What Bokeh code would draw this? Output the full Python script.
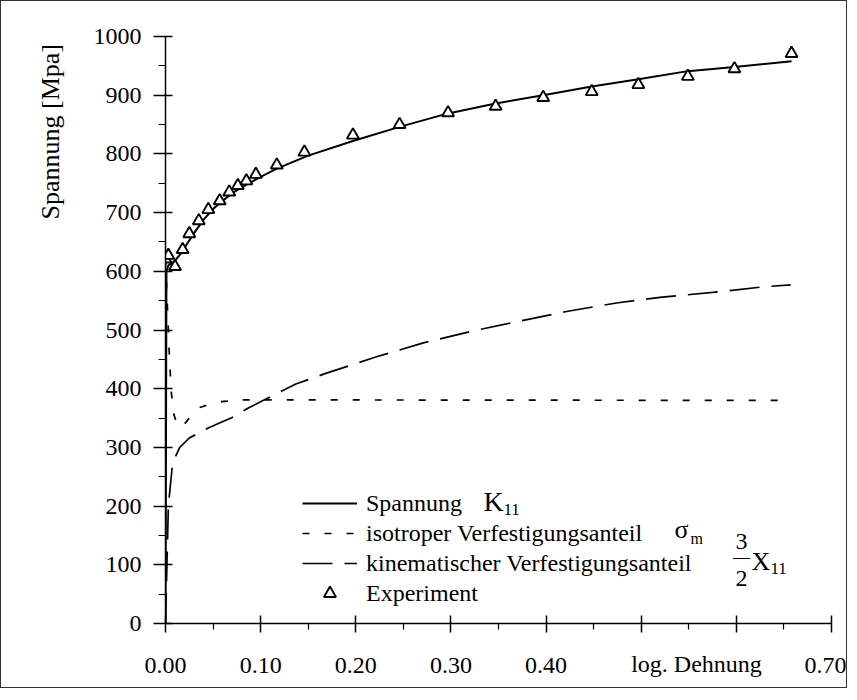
from bokeh.plotting import figure
from bokeh.models import (Range1d, FixedTicker, CustomJSTickFormatter, Legend, LegendItem, Label)
from bokeh.embed import file_html
from bokeh.resources import INLINE

# ---------------- data ----------------
# Spannung K11 (solid)
k11_x = [0.0, 0.0005, 0.001, 0.003, 0.006, 0.010, 0.015, 0.020, 0.030, 0.040, 0.050, 0.060,
         0.070, 0.080, 0.090, 0.100, 0.117, 0.150, 0.197, 0.246, 0.297, 0.347, 0.397,
         0.448, 0.497, 0.549, 0.598, 0.658]
k11_y = [0, 300, 600, 610, 613, 618, 628, 640, 665, 688, 706, 720,
         733, 743, 752, 761, 775, 797, 822, 846, 869, 886, 900,
         915, 927, 941, 948, 958]

# isotroper Verfestigungsanteil sigma_m (short dash)
iso_x = [0.0, 0.002, 0.004, 0.006, 0.009, 0.0125, 0.016, 0.020, 0.025, 0.036, 0.053, 0.078, 0.100, 0.650]
iso_y = [620, 540, 460, 395, 355, 338, 334, 340, 350, 368, 377, 381, 381, 380]

# kinematischer Verfestigungsanteil 3/2 X11 (long dash)
kin_x = [0.0, 0.003, 0.005, 0.0075, 0.015, 0.025, 0.046, 0.070, 0.088, 0.104, 0.137, 0.170,
         0.221, 0.271, 0.322, 0.372, 0.423, 0.474, 0.522, 0.575, 0.625, 0.657]
kin_y = [0, 200, 233, 274, 300, 316, 334, 351, 368, 381, 408, 427,
         454, 478, 498, 515, 532, 546, 556, 564, 573, 577]

# Experiment (triangles)
exp_x = [0.0, 0.003, 0.010, 0.018, 0.025, 0.035, 0.045, 0.057, 0.067, 0.076, 0.085, 0.095,
         0.117, 0.146, 0.197, 0.246, 0.297, 0.347, 0.397, 0.448, 0.497, 0.549, 0.598, 0.658]
exp_y = [621, 627, 608, 637, 664, 686, 705, 720, 735, 746, 754, 765,
         781, 803, 832, 850, 870, 881, 896, 906, 918, 932, 945, 971]

x_ticks = [0.0, 0.1, 0.2, 0.3, 0.4, 0.5, 0.6, 0.7]
x_minor = [0.05, 0.15, 0.25, 0.35, 0.45, 0.55, 0.65]
y_ticks = [0, 100, 200, 300, 400, 500, 600, 700, 800, 900, 1000]
y_minor = [50, 150, 250, 350, 450, 550, 650, 750, 850, 950]

FONT = "Liberation Serif"
NB = "\u00a0"

# ---------------- layout ----------------
OFF = 2
W, H = 847, 688
ML, MR, MT, MB = 164, 17, 35, 66
X0, X1, Y0, Y1 = 0.0, 0.7, 0.0, 1000.0
FW, FH = W - ML - MR, H - MT - MB

def dx(px):
    """page pixel x -> data x"""
    return X0 + (px - OFF - ML) / FW * (X1 - X0)

def dy(py):
    """page pixel y -> data y"""
    return Y0 + (OFF + MT + FH - py) / FH * (Y1 - Y0)

p = figure(width=W, height=H, output_backend="svg", toolbar_location=None,
           x_range=Range1d(X0, X1), y_range=Range1d(Y0, Y1),
           min_border_left=ML, min_border_right=MR, min_border_top=MT, min_border_bottom=MB)
p.styles = {"border": "1.5px solid #333"}
p.outline_line_color = None
p.xgrid.visible = False
p.ygrid.visible = False
p.background_fill_color = "white"
p.border_fill_color = "white"

for ax in (p.xaxis[0], p.yaxis[0]):
    ax.axis_line_color = "black"
    ax.axis_line_width = 1.5
    ax.major_tick_line_color = "black"
    ax.major_tick_line_width = 1.5
    ax.minor_tick_line_color = "black"
    ax.minor_tick_line_width = 1.2
    ax.major_label_text_font = FONT
    ax.major_label_text_font_size = "24px"
    ax.major_label_text_color = "black"
    ax.minor_tick_in = 0
    ax.axis_label_text_font = FONT
    ax.axis_label_text_font_style = "normal"
    ax.axis_label_text_color = "black"

xa = p.xaxis[0]
xa.ticker = FixedTicker(ticks=x_ticks, minor_ticks=x_minor)
xa.formatter = CustomJSTickFormatter(code="return (tick > 0.45 && tick < 0.65) ? '' : tick.toFixed(2);")
xa.major_tick_in = 8
xa.major_tick_out = 9
xa.minor_tick_out = 6
xa.major_label_standoff = 25
xa.axis_label = NB * 66 + "log. Dehnung"
xa.axis_label_text_font_size = "24px"
xa.axis_label_standoff = -25

ya = p.yaxis[0]
ya.ticker = FixedTicker(ticks=y_ticks, minor_ticks=y_minor)
ya.major_tick_in = 7
ya.major_tick_out = 12
ya.minor_tick_out = 7
ya.major_label_standoff = 12
ya.axis_label = NB * 61 + "Spannung [Mpa]"
ya.axis_label_text_font_size = "26px"
ya.axis_label_standoff = 26

# ---------------- series ----------------
r_k = p.line(k11_x, k11_y, line_color="black", line_width=2)
r_i = p.line(iso_x, iso_y, line_color="black", line_width=1.7, line_dash="7 15")
r_m = p.line(kin_x, kin_y, line_color="black", line_width=1.7, line_dash="30 12")
r_e = p.scatter(exp_x, exp_y, marker="triangle", size=12, fill_color="white",
                line_color="black", line_width=1.9)

legend = Legend(items=[
    LegendItem(label="Spannung", renderers=[r_k]),
    LegendItem(label="isotroper Verfestigungsanteil", renderers=[r_i]),
    LegendItem(label="kinematischer Verfestigungsanteil", renderers=[r_m]),
    LegendItem(label="Experiment", renderers=[r_e]),
], location=(137, 15))
legend.label_text_font = FONT
legend.label_text_font_size = "24px"
legend.label_text_color = "black"
legend.glyph_width = 55
legend.glyph_height = 30
legend.label_height = 30
legend.label_standoff = 9
legend.spacing = 0
legend.padding = 0
legend.margin = 0
legend.border_line_color = None
legend.background_fill_alpha = 0
p.add_layout(legend)

def lab(text, px, py, size, align="left"):
    p.add_layout(Label(x=dx(px), y=dy(py), text=text, text_font=FONT,
                       text_font_size=f"{size}px", text_color="black",
                       text_align=align, text_baseline="middle"))

# math parts of the legend labels
lab("K", 484, 502, 28)
lab("11", 504, 510, 17)
lab("σ", 675, 530, 26)
lab("m", 691, 539, 16)
lab("3", 742, 542, 24, "center")
lab("—", 742, 557, 17, "center")
lab("2", 742, 579, 24, "center")
lab("X", 752, 562, 26)
lab("11", 771, 569, 17)

open("out.html", "w").write(file_html(p, INLINE))
